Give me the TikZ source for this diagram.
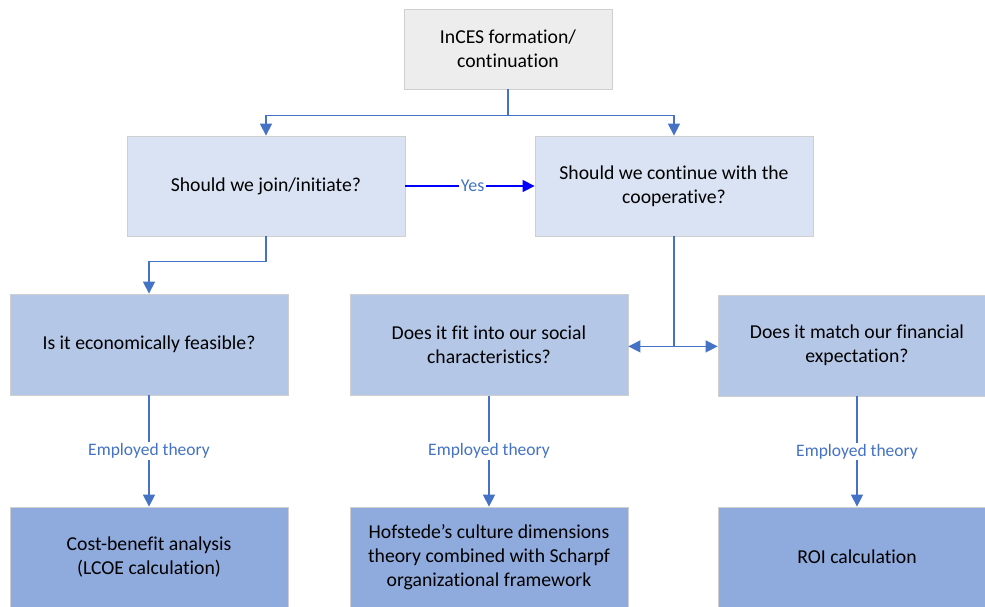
\documentclass[tikz,border=0pt]{standalone}
\usepackage{fontspec}
\setmainfont{Carlito}[Ligatures={NoCommon,NoRare}]
\usetikzlibrary{arrows.meta}

\definecolor{linkblue}{HTML}{4472C4}
\definecolor{yesblue}{HTML}{0000FF}
\definecolor{topfill}{HTML}{EDEDED}
\definecolor{qfill}{HTML}{DAE3F3}
\definecolor{midfill}{HTML}{B4C7E7}
\definecolor{theoryfill}{HTML}{8FAADC}
\definecolor{edge}{HTML}{CFCFCF}

\tikzset{
  x=1pt, y=-1pt,
  box/.style={draw=edge, line width=0.8pt, align=center, inner sep=0pt,
    minimum width=#1, font=\fontsize{19.7}{24}\selectfont},
  box/.default=278pt,
  topbox/.style={box=208pt, fill=topfill, minimum height=80pt},
  qbox/.style={box, fill=qfill, minimum height=100pt},
  midbox/.style={box, fill=midfill, minimum height=101pt},
  theorybox/.style={box, fill=theoryfill, minimum height=100pt},
  link/.style={draw=linkblue, line width=1.4pt,
    -{Triangle[length=12pt,width=12pt]}},
  plainlink/.style={draw=linkblue, line width=1.4pt},
  yeslink/.style={draw=yesblue, line width=1.4pt,
    -{Triangle[length=12pt,width=12pt]}},
  lab/.style={fill=white, text=linkblue, inner sep=1.5pt,
    font=\fontsize{17.5}{21}\selectfont},
}

\begin{document}
\begin{tikzpicture}
\useasboundingbox (0,0) rectangle (985,607);
\clip (0,0) rectangle (985,607);

% decision boxes
\node[topbox] (top) at (508,49) {InCES formation/\\continuation};
\node[qbox] (join) at (266,186) {Should we join/initiate?};
\node[qbox] (cont) at (674,186) {Should we continue with the\\cooperative?};

% criteria
\node[midbox] (econ) at (149,344.5) {Is it economically feasible?};
\node[midbox] (social) at (489,345) {Does it fit into our social\\characteristics?};
\node[midbox] (fin) at (857,345.5) {Does it match our financial\\expectation?};

% theories
\node[theorybox] (cba) at (149,557) {Cost-benefit analysis\\(LCOE calculation)};
\node[theorybox] (hof) at (489,557) {Hofstede’s culture dimensions\\theory combined with Scharpf\\organizational framework};
\node[theorybox] (roi) at (857,557) {ROI calculation};

% connectors
\draw[link] (top.south) -- ++(0,26) -| (join.north);
\draw[link] (top.south) -- ++(0,26) -| (cont.north);
\draw[yeslink] (join.east) -- node[lab, text=linkblue, font=\fontsize{18}{21}\selectfont, pos=0.52]{Yes} (cont.west);
\draw[link] (join.south) -- ++(0,25) -| (econ.north);
\draw[plainlink] (cont.south) -- ++(0,110) coordinate (branch);
\draw[link] (branch) -- (social.east |- branch);
\draw[link] (branch) -- (fin.west |- branch);
\draw[link] (econ.south) -- node[lab]{Employed theory} (cba.north);
\draw[link] (social.south) -- node[lab]{Employed theory} (hof.north);
\draw[link] (fin.south) -- node[lab]{Employed theory} (roi.north);
\end{tikzpicture}
\end{document}
